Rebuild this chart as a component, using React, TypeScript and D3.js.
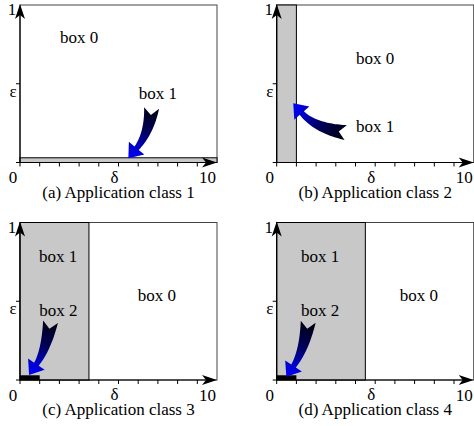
import * as d3 from "d3";

const CAPTIONS = [
  "(a) Application class 1",
  "(b) Application class 2",
  "(c) Application class 3",
  "(d) Application class 4",
];

// box 1 (grey) extents per panel, in (δ, ε)
const BOX1_DELTA = [10, 1, 3.5, 4.5];
const BOX1_EPS = [0.03, 1, 1, 1];
// box 2 (black) extents, only panels c and d
const BOX2_DELTA = [0, 0, 1, 1];
const BOX2_EPS = [0, 0, 0.03, 0.03];

// label anchors (δ, ε baseline)
const BOX0_LABEL: [number, number][] = [[3.0, 0.756], [5.0, 0.625], [6.95, 0.5], [7.22, 0.5]];
const BOX1_LABEL: [number, number][] = [[7.0, 0.403], [5.0, 0.194], [1.94, 0.747], [2.2, 0.747]];
const BOX2_LABEL: ([number, number] | null)[] = [null, null, [1.95, 0.408], [2.2, 0.408]];

// curved annotation arrows: tail, control, head (δ, ε)
const ARROW_TAIL: [number, number][] = [[6.68, 0.346], [3.5, 0.19], [1.55, 0.37], [1.6, 0.37]];
const ARROW_CTRL: [number, number][] = [[6.55, 0.187], [1.94, 0.219], [1.32, 0.19], [1.39, 0.19]];
const ARROW_HEAD: [number, number][] = [[5.5, 0.027], [0.84, 0.376], [0.46, 0.032], [0.49, 0.02]];

const X_TICKS = [0, 1, 2, 3, 4, 5, 6, 7, 8, 9];
const Y_TICKS = [0, 0.5];

const W = 474;
const H = 426;
const PLOT_W = 197;
const PLOT_H = 157.5;
const ORIGIN_X = [20, 276.7];
const ORIGIN_Y = [162.5, 380];
const FONT = "'Liberation Serif', 'Times New Roman', Times, 'DejaVu Serif', serif";
const FS = 17;

type Pt = [number, number];

function fatArrow(t: Pt, c: Pt, h: Pt) {
  const tailW = 15, neckW = 5.5, headLen = 13, headW = 20, notch = 7;
  const dl = Math.hypot(h[0] - c[0], h[1] - c[1]);
  const d: Pt = [(h[0] - c[0]) / dl, (h[1] - c[1]) / dl];
  const n: Pt = [h[0] - d[0] * headLen, h[1] - d[1] * headLen];
  const left: Pt[] = [];
  const right: Pt[] = [];
  const N = 30;
  for (let i = 0; i <= N; i++) {
    const s = i / N;
    const a = (1 - s) * (1 - s), b = 2 * (1 - s) * s, e = s * s;
    const p: Pt = [a * t[0] + b * c[0] + e * n[0], a * t[1] + b * c[1] + e * n[1]];
    let tx = 2 * (1 - s) * (c[0] - t[0]) + 2 * s * (n[0] - c[0]);
    let ty = 2 * (1 - s) * (c[1] - t[1]) + 2 * s * (n[1] - c[1]);
    const tl = Math.hypot(tx, ty);
    tx /= tl; ty /= tl;
    const w = neckW + (tailW - neckW) * Math.pow(1 - s, 1.2);
    left.push([p[0] - ty * w / 2, p[1] + tx * w / 2]);
    right.push([p[0] + ty * w / 2, p[1] - tx * w / 2]);
  }
  const perp: Pt = [-d[1], d[0]];
  const wingL: Pt = [n[0] + perp[0] * headW / 2, n[1] + perp[1] * headW / 2];
  const wingR: Pt = [n[0] - perp[0] * headW / 2, n[1] - perp[1] * headW / 2];
  const tl0 = Math.hypot(c[0] - t[0], c[1] - t[1]);
  const notchPt: Pt = [t[0] + (c[0] - t[0]) / tl0 * notch, t[1] + (c[1] - t[1]) / tl0 * notch];
  const path = d3.path();
  path.moveTo(left[0][0], left[0][1]);
  left.forEach((p) => path.lineTo(p[0], p[1]));
  path.lineTo(wingL[0], wingL[1]);
  path.lineTo(h[0], h[1]);
  path.lineTo(wingR[0], wingR[1]);
  right.slice().reverse().forEach((p) => path.lineTo(p[0], p[1]));
  path.lineTo(notchPt[0], notchPt[1]);
  path.closePath();
  return path.toString();
}

function axisHead(tip: Pt, dir: Pt) {
  const len = 15, hw = 5, notch = 4;
  const perp: Pt = [-dir[1], dir[0]];
  const bx = tip[0] - dir[0] * len, by = tip[1] - dir[1] * len;
  const p = d3.path();
  p.moveTo(tip[0], tip[1]);
  p.lineTo(bx + perp[0] * hw, by + perp[1] * hw);
  p.lineTo(tip[0] - dir[0] * (len - notch), tip[1] - dir[1] * (len - notch));
  p.lineTo(bx - perp[0] * hw, by - perp[1] * hw);
  p.closePath();
  return p.toString();
}

function Panel({ idx }: { idx: number }) {
  const ox = ORIGIN_X[idx % 2];
  const oy = ORIGIN_Y[Math.floor(idx / 2)];
  const x = d3.scaleLinear().domain([0, 10]).range([ox, ox + PLOT_W]);
  const y = d3.scaleLinear().domain([0, 1]).range([oy, oy - PLOT_H]);
  const gradId = `arrow-grad-${idx}`;
  const tail: Pt = [x(ARROW_TAIL[idx][0]), y(ARROW_TAIL[idx][1])];
  const ctrl: Pt = [x(ARROW_CTRL[idx][0]), y(ARROW_CTRL[idx][1])];
  const head: Pt = [x(ARROW_HEAD[idx][0]), y(ARROW_HEAD[idx][1])];
  const b2 = BOX2_LABEL[idx];

  return (
    <g style={{ fontFamily: FONT, fontSize: FS }} fill="#000">
      <defs>
        <linearGradient id={gradId} gradientUnits="userSpaceOnUse"
          x1={tail[0]} y1={tail[1]} x2={head[0]} y2={head[1]}>
          <stop offset="0%" stopColor="#00000f" />
          <stop offset="45%" stopColor="#000060" />
          <stop offset="75%" stopColor="#0000c8" />
          <stop offset="100%" stopColor="#0000ff" />
        </linearGradient>
      </defs>

      {/* frame */}
      <rect x={x(0)} y={y(1)} width={x(10) - x(0)} height={y(0) - y(1)}
        fill="white" stroke="#444" strokeWidth={1} />

      {/* box 1 */}
      <rect x={x(0)} y={y(BOX1_EPS[idx])} width={x(BOX1_DELTA[idx]) - x(0)}
        height={y(0) - y(BOX1_EPS[idx])} fill="#c8c8c8" stroke="#000" strokeWidth={1} />

      {/* box 2 */}
      {BOX2_DELTA[idx] > 0 && (
        <rect x={x(0)} y={y(BOX2_EPS[idx])} width={x(BOX2_DELTA[idx]) - x(0)}
          height={y(0) - y(BOX2_EPS[idx])} fill="#000" />
      )}

      {/* axes */}
      <line x1={x(0)} y1={y(0)} x2={x(10) - 6} y2={y(0)} stroke="#000" strokeWidth={1.2} />
      <line x1={x(0)} y1={y(0)} x2={x(0)} y2={y(1) + 6} stroke="#000" strokeWidth={1.2} />
      <path d={axisHead([x(10), y(0)], [1, 0])} fill="#000" />
      <path d={axisHead([x(0), y(1) - 1], [0, -1])} fill="#000" />
      {X_TICKS.map((t) => (
        <line key={"x" + t} x1={x(t)} x2={x(t)} y1={y(0)} y2={y(0) + 4} stroke="#000" strokeWidth={1} />
      ))}
      {Y_TICKS.map((t) => (
        <line key={"y" + t} x1={x(0) - 4} x2={x(0)} y1={y(t)} y2={y(t)} stroke="#000" strokeWidth={1} />
      ))}

      {/* axis labels */}
      <text x={x(0) - 7} y={y(0) + 20.5} textAnchor="middle">0</text>
      <text x={x(9.52)} y={y(0) + 20.5} textAnchor="middle">10</text>
      <text x={x(4.8)} y={y(0) + 20} textAnchor="middle">δ</text>
      <text x={x(0) - 8} y={y(1) + 10} textAnchor="middle">1</text>
      <text x={x(0) - 7} y={y(0.5) + 13} textAnchor="middle">ε</text>

      {/* box labels */}
      <text x={x(BOX0_LABEL[idx][0])} y={y(BOX0_LABEL[idx][1])} textAnchor="middle">box 0</text>
      <text x={x(BOX1_LABEL[idx][0])} y={y(BOX1_LABEL[idx][1])} textAnchor="middle">box 1</text>
      {b2 && <text x={x(b2[0])} y={y(b2[1])} textAnchor="middle">box 2</text>}

      {/* annotation arrow */}
      <path d={fatArrow(tail, ctrl, head)} fill={`url(#${gradId})`} />

      {/* caption */}
      <text x={x(5)} y={y(0) + 35} textAnchor="middle">{CAPTIONS[idx]}</text>
    </g>
  );
}

export default function App() {
  return (
    <div style={{ position: "absolute", left: 0, top: 0 }}>
      <svg width={W} height={H} style={{ display: "block", background: "white" }}>
        {[0, 1, 2, 3].map((i) => (
          <Panel key={i} idx={i} />
        ))}
      </svg>
    </div>
  );
}
